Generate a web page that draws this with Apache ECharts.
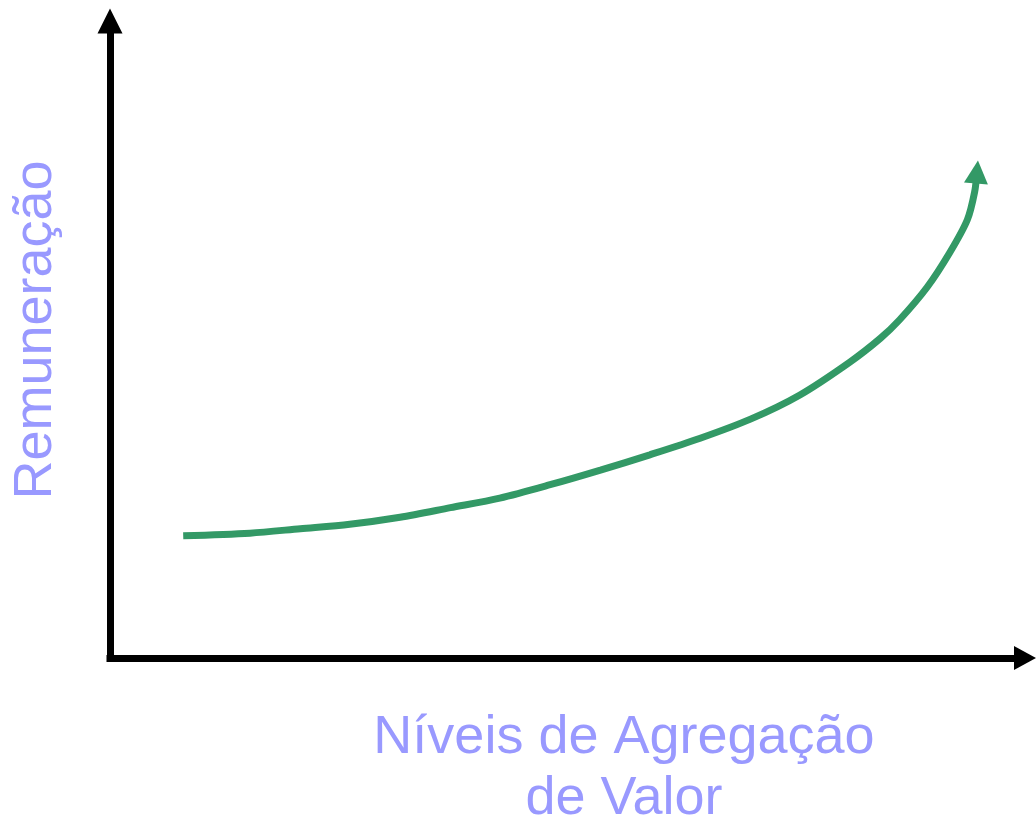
<!DOCTYPE html>
<html>
<head>
    <meta charset="UTF-8">
    <title>Remuneração x Níveis de Agregação de Valor</title>
    <script src="https://cdn.jsdelivr.net/npm/echarts@6/dist/echarts.min.js"></script>
    <style>
        * { margin: 0; padding: 0; box-sizing: border-box; }
        body { background: #fff; }
        #chart { width: 1036px; height: 825px; }
    </style>
</head>
<body>
    <div id="chart"></div>
    <script>
        // curva conceitual (escala 0-100 nos dois eixos)
        const curveX = [8.0, 15.3, 20.8, 26.2, 31.7, 37.2, 42.6, 48.1, 53.6, 59.0, 64.5, 70.0, 75.4, 80.9, 84.2, 86.3, 89.3, 91.8, 93.7, 94.5, 94.75];
        const curveY = [19.2, 19.6, 20.3, 21.0, 22.1, 23.6, 25.1, 27.2, 29.5, 31.9, 34.5, 37.5, 41.3, 46.5, 50.2, 53.1, 58.2, 63.7, 68.8, 73.2, 76.3];

        const xName = 'Níveis de Agregação\nde Valor';
        const yName = 'Remuneração';

        const green = '#339966';
        const labelColor = '#9999ff';
        const font = '"Liberation Sans", Arial, sans-serif';

        const chart = echarts.init(document.getElementById('chart'));

        const points = curveX.map(function (x, i) {
            const p = { value: [x, curveY[i]] };
            if (i === curveX.length - 1) {
                p.symbol = 'triangle';
                p.symbolSize = [24, 23];
                p.symbolRotate = -5;
            }
            return p;
        });

        const axisCommon = {
            type: 'value',
            min: 0,
            max: 100,
            axisLabel: { show: false },
            axisTick: { show: false },
            splitLine: { show: false },
            axisLine: {
                show: true,
                symbol: ['none', 'triangle'],
                lineStyle: { color: '#000', width: 7, cap: 'square' }
            }
        };

        chart.setOption({
            animation: false,
            grid: { left: 110, right: 11, top: 21, bottom: 167 },
            xAxis: Object.assign({}, axisCommon, {
                axisLine: Object.assign({}, axisCommon.axisLine, { symbolSize: [24, 22] })
            }),
            yAxis: Object.assign({}, axisCommon, {
                axisLine: Object.assign({}, axisCommon.axisLine, { symbolSize: [25, 25] })
            }),
            graphic: [
                {
                    type: 'text',
                    x: 624,
                    y: 769,
                    style: {
                        text: xName,
                        fill: labelColor,
                        font: '54px ' + font,
                        align: 'center',
                        verticalAlign: 'middle',
                        lineHeight: 61
                    }
                },
                {
                    type: 'text',
                    x: 36,
                    y: 330,
                    rotation: Math.PI / 2,
                    style: {
                        text: yName,
                        fill: labelColor,
                        font: '54px ' + font,
                        align: 'center',
                        verticalAlign: 'middle'
                    }
                }
            ],
            series: [{
                type: 'line',
                data: points,
                smooth: 0.3,
                symbol: 'none',
                showSymbol: true,
                lineStyle: { color: green, width: 7 },
                itemStyle: { color: green },
                silent: true
            }]
        });
    </script>
</body>
</html>
